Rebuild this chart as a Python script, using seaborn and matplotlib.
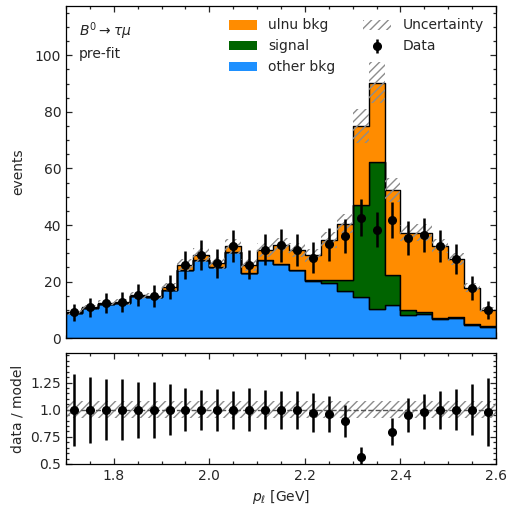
import numpy as np
import pandas as pd
import matplotlib
matplotlib.use("Agg")
import matplotlib.pyplot as plt
from matplotlib.patches import Patch
from matplotlib.ticker import AutoMinorLocator, MultipleLocator, FixedLocator, FuncFormatter
import seaborn as sns

# Binning of the lepton momentum
x_lo, x_hi, n_bins = 1.7, 2.6, 27

# Pre-fit template yields per bin
other_bkg = [8.9, 10.7, 12.2, 12.3, 14.8, 14.4, 17.0, 24.0, 27.8, 25.0, 30.5, 23.2, 27.7,
             26.3, 24.0, 20.3, 19.5, 16.6, 14.6, 10.2, 11.9, 8.1, 8.7, 6.8, 7.1, 4.7, 4.0]
signal = [0.0, 0.0, 0.0, 0.0, 0.0, 0.0, 0.0, 0.0, 0.0, 0.0, 0.0, 0.0, 0.0,
          0.0, 0.0, 0.3, 1.2, 4.1, 32.5, 51.9, 10.4, 2.0, 0.5, 0.5, 0.3, 0.2, 0.4]
ulnu_bkg = [0.2, 0.2, 0.4, 0.6, 0.3, 0.5, 1.1, 1.9, 1.6, 1.5, 2.0, 2.8, 3.6,
            6.5, 7.3, 8.7, 13.9, 19.8, 27.9, 28.2, 30.0, 27.1, 28.1, 25.3, 20.6, 13.0, 5.7]

# Observed counts
data = [9.1, 10.9, 12.6, 12.9, 15.1, 14.9, 18.1, 25.9, 29.4, 26.5, 32.5, 26.0, 31.3,
        32.8, 31.2, 28.5, 33.2, 36.2, 42.6, 38.4, 41.8, 35.4, 36.6, 32.6, 28.0, 17.9, 9.9]

# Relative template uncertainty
rel_unc = 0.08

# Ratio panel tick values
ratio_ticks = [0.5, 0.75, 1.0, 1.25]

components = ["ulnu bkg", "signal", "other bkg"]
colors = {"ulnu bkg": "#FF8C00", "signal": "#006400", "other bkg": "#1E90FF"}
hatch_color = "#8c8c8c"

edges = np.linspace(x_lo, x_hi, n_bins + 1)
centers = 0.5 * (edges[:-1] + edges[1:])
yields = {"ulnu bkg": np.array(ulnu_bkg), "signal": np.array(signal),
          "other bkg": np.array(other_bkg)}
total = sum(yields.values())
data = np.array(data)

df = pd.concat([pd.DataFrame({"x": centers, "w": yields[c], "component": c})
                for c in components], ignore_index=True)

sns.set_style("ticks", {"xtick.direction": "in", "ytick.direction": "in",
                        "axes.edgecolor": "black"})
plt.rcParams["font.family"] = ["DejaVu Sans"]
plt.rcParams["font.size"] = 10
plt.rcParams["axes.linewidth"] = 0.9
plt.rcParams["hatch.color"] = hatch_color
plt.rcParams["hatch.linewidth"] = 1.0

fig = plt.figure(figsize=(5.08, 5.07), dpi=100)
gs = fig.add_gridspec(2, 1, height_ratios=[3, 1], hspace=0.068,
                      left=66 / 508, right=496 / 508, top=1 - 6 / 507, bottom=1 - 464 / 507)
ax = fig.add_subplot(gs[0])
rax = fig.add_subplot(gs[1], sharex=ax)

# Stacked templates
sns.histplot(data=df, x="x", weights="w", hue="component", hue_order=components,
             bins=edges.tolist(), multiple="stack", element="step", palette=colors, alpha=1,
             edgecolor="black", linewidth=1.0, legend=False, ax=ax)

# Uncertainty band on the total
lo = total * (1 - rel_unc)
hi = total * (1 + rel_unc)
ax.fill_between(edges, np.append(lo, lo[-1]), np.append(hi, hi[-1]),
                step="post", facecolor="none", edgecolor=hatch_color, linewidth=0,
                hatch="////", zorder=3)

# Data
dcont = ax.errorbar(centers, data, yerr=np.sqrt(data), fmt="o", color="black",
                    markersize=5.5, elinewidth=1.8, capsize=0, zorder=5)

ax.set_xlim(x_lo, x_hi)
ax.set_ylim(0, 1.3 * total.max())
ax.set_ylabel("events")
ax.set_xlabel("")
ax.yaxis.set_major_locator(MultipleLocator(20))
ax.yaxis.set_minor_locator(AutoMinorLocator(4))
ax.tick_params(labelbottom=False)

ax.text(0.03, 0.958, r"$B^0 \rightarrow \tau\mu$" + "\npre-fit", transform=ax.transAxes,
        ha="left", va="top", linespacing=1.5)

handles = [Patch(facecolor=colors[c], edgecolor="none", label=c) for c in components]
handles += [Patch(facecolor="none", edgecolor=hatch_color, linewidth=0, hatch="////",
                  label="Uncertainty"), dcont]
labels = components + ["Uncertainty", "Data"]
ax.legend(handles, labels, loc="upper right", ncol=2, frameon=False)

# Ratio panel
ratio = data / total
ratio_err = np.sqrt(data) / total
rax.fill_between(edges, 1 - rel_unc, 1 + rel_unc, step="post", facecolor="none",
                 edgecolor=hatch_color, linewidth=0, hatch="////", zorder=1)
rax.axhline(1.0, color="#555555", linestyle="--", linewidth=1.0, zorder=2)
rax.errorbar(centers, ratio, yerr=ratio_err, fmt="o", color="black",
             markersize=5.5, elinewidth=1.8, capsize=0, zorder=5)
rax.set_ylim(0.5, 1.52)
rax.yaxis.set_major_locator(FixedLocator(ratio_ticks))
rax.yaxis.set_minor_locator(AutoMinorLocator(5))
rax.yaxis.set_major_formatter(FuncFormatter(lambda v, p: str(round(float(v), 2))))
rax.xaxis.set_major_locator(MultipleLocator(0.2))
rax.xaxis.set_minor_locator(AutoMinorLocator(4))
rax.set_xlabel(r"$p_\ell$ [GeV]")
rax.set_ylabel("data / model")

for a in (ax, rax):
    a.tick_params(which="both", direction="in", top=True, right=True, width=0.9)
    a.tick_params(which="major", length=4.0)
    a.tick_params(which="minor", length=2.2)
    for s in a.spines.values():
        s.set_visible(True)
        s.set_color("black")

fig.align_ylabels([ax, rax])
fig.savefig("out.png", dpi=100)
